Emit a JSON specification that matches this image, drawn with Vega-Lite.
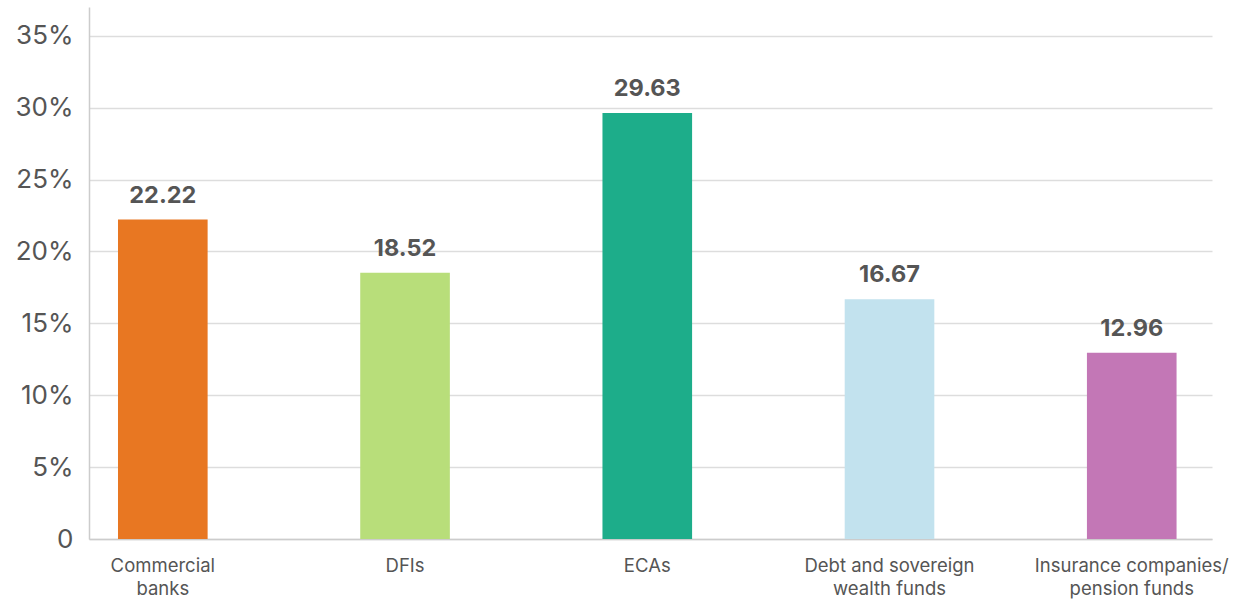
{
  "$schema": "https://vega.github.io/schema/vega-lite/v6.json",
  "width": 1123,
  "height": 532,
  "autosize": {"type": "none"},
  "padding": {"left": 89, "top": 7, "right": 25, "bottom": 61},
  "background": "white",
  "config": {
    "view": {"stroke": null},
    "font": "Inter"
  },
  "data": {
    "values": [
      {"category": "Commercial|banks", "value": 22.22, "color": "#E87722"},
      {"category": "DFIs", "value": 18.52, "color": "#B8DE7A"},
      {"category": "ECAs", "value": 29.63, "color": "#1DAD8A"},
      {"category": "Debt and sovereign|wealth funds", "value": 16.67, "color": "#C2E2EE"},
      {"category": "Insurance companies/|pension funds", "value": 12.96, "color": "#C377B6"}
    ]
  },
  "encoding": {
    "x": {
      "field": "category",
      "type": "nominal",
      "sort": null,
      "scale": {"paddingInner": 0.63, "paddingOuter": 0.133, "align": 0.45},
      "axis": {
        "title": null,
        "labelAngle": 0,
        "labelExpr": "split(datum.label, '|')",
        "labelFont": "Inter",
        "labelFontSize": 18.5,
        "labelColor": "#555555",
        "labelPadding": 17,
        "labelLineHeight": 23,
        "labelLimit": 400,
        "labelOverlap": false,
        "labelBound": false,
        "ticks": false,
        "domainColor": "#cccccc",
        "domainWidth": 1.5
      }
    },
    "y": {
      "field": "value",
      "type": "quantitative",
      "scale": {"domain": [0, 37], "nice": false},
      "axis": {
        "title": null,
        "values": [0, 5, 10, 15, 20, 25, 30, 35],
        "labelExpr": "datum.value == 0 ? '0' : datum.value + '%'",
        "labelFont": "Inter",
        "labelFontSize": 26,
        "labelColor": "#555555",
        "labelPadding": 16,
        "ticks": false,
        "grid": true,
        "gridColor": "#dddddd",
        "gridWidth": 1.5,
        "domainColor": "#cccccc",
        "domainWidth": 1.5
      }
    }
  },
  "layer": [
    {
      "mark": {"type": "bar"},
      "encoding": {
        "color": {"field": "color", "type": "nominal", "scale": null, "legend": null}
      }
    },
    {
      "mark": {
        "type": "text",
        "baseline": "bottom",
        "dy": -12,
        "fontSize": 23.5,
        "fontWeight": "bold",
        "color": "#555555",
        "font": "Inter"
      },
      "encoding": {
        "text": {"field": "value", "type": "quantitative", "format": ".2f"}
      }
    }
  ]
}
